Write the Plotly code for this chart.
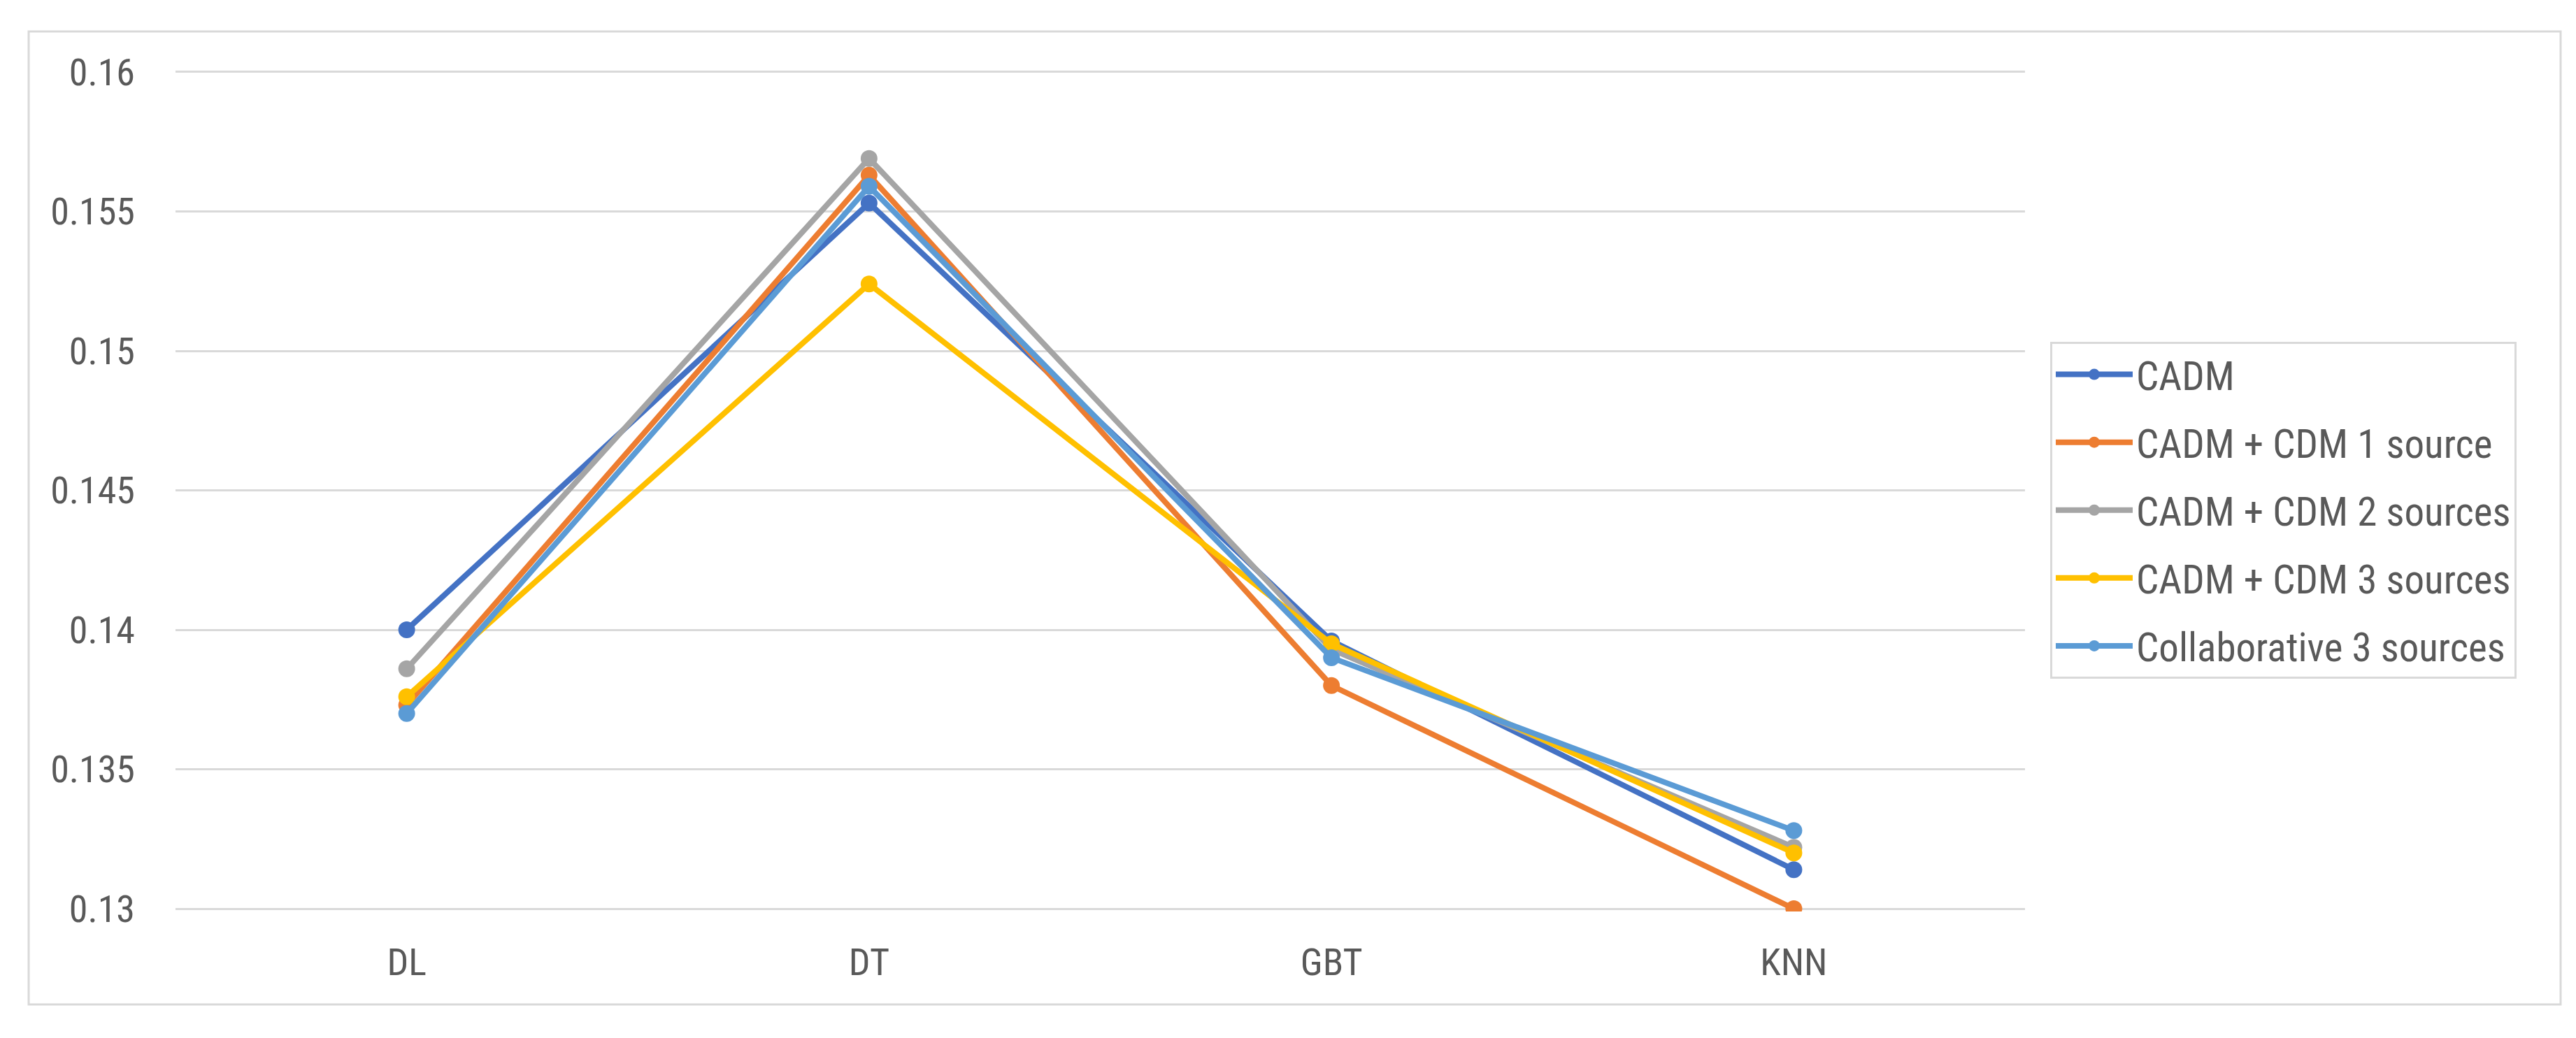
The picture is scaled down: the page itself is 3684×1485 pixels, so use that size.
import plotly.graph_objects as go

categories = ["DL", "DT", "GBT", "KNN"]
series_names = [
    "CADM",
    "CADM + CDM 1 source",
    "CADM + CDM 2 sources",
    "CADM + CDM 3 sources",
    "Collaborative 3 sources",
]
cadm = [0.1400, 0.1553, 0.1396, 0.1314]
cadm_cdm1 = [0.1373, 0.1563, 0.1380, 0.1300]
cadm_cdm2 = [0.1386, 0.1569, 0.1393, 0.1322]
cadm_cdm3 = [0.1376, 0.1524, 0.1395, 0.1320]
collab3 = [0.1370, 0.1559, 0.1390, 0.1328]
y_ticks = [0.13, 0.135, 0.14, 0.145, 0.15, 0.155, 0.16]
y_tick_labels = ["0.13", "0.135", "0.14", "0.145", "0.15", "0.155", "0.16"]

colors = ["#4472C4", "#ED7D31", "#A5A5A5", "#FFC000", "#5B9BD5"]
all_series = [cadm, cadm_cdm1, cadm_cdm2, cadm_cdm3, collab3]

FONT = "Liberation Sans Narrow, Roboto Condensed, Liberation Sans, Arial, sans-serif"
TXT = "#595959"

W, H = 3684, 1485
L, R, T, B = 243, 2888, 91, 1296
pw, ph = R - L, B - T

def px(x):
    return (x - L) / pw

def py(y):
    return (B - y) / ph

fig = go.Figure()
for i, (name, vals) in enumerate(zip(series_names, all_series)):
    fig.add_trace(go.Scatter(
        x=categories, y=vals, name=name, mode="lines+markers",
        line=dict(color=colors[i], width=8),
        marker=dict(color=colors[i], size=24),
        legendgroup=f"g{i}",
    ))

fig.update_layout(
    width=W, height=H,
    margin=dict(l=L, r=W - R, t=T, b=H - B, pad=0),
    paper_bgcolor="white", plot_bgcolor="white",
    font=dict(family=FONT, size=54, color=TXT),
    showlegend=True,
    legend=dict(
        x=px(2924), y=py(481), xanchor="left", yanchor="top",
        bordercolor="#d9d9d9", borderwidth=3,
        font=dict(family=FONT, size=57, color=TXT),
        tracegroupgap=20,
        itemwidth=110,
        entrywidth=560,
        entrywidthmode="pixels",
    ),
    xaxis=dict(
        type="category", range=[-0.5, 3.5], showgrid=False, zeroline=False,
        showline=False, ticks="", ticklabelstandoff=36,
        tickfont=dict(family=FONT, size=54, color=TXT),
    ),
    yaxis=dict(
        range=[0.1299, 0.1601], tickvals=y_ticks, ticktext=y_tick_labels,
        showgrid=True, gridcolor="#d9d9d9", gridwidth=3, zeroline=False,
        showline=False, ticks="", ticklabelstandoff=57,
        tickfont=dict(family=FONT, size=54, color=TXT),
    ),
    shapes=[dict(
        type="rect", xref="paper", yref="paper",
        x0=px(33), x1=px(3654), y0=py(1429), y1=py(37),
        line=dict(color="#d9d9d9", width=3), fillcolor="rgba(0,0,0,0)",
        layer="below",
    )],
)

fig.write_html("out.html")
